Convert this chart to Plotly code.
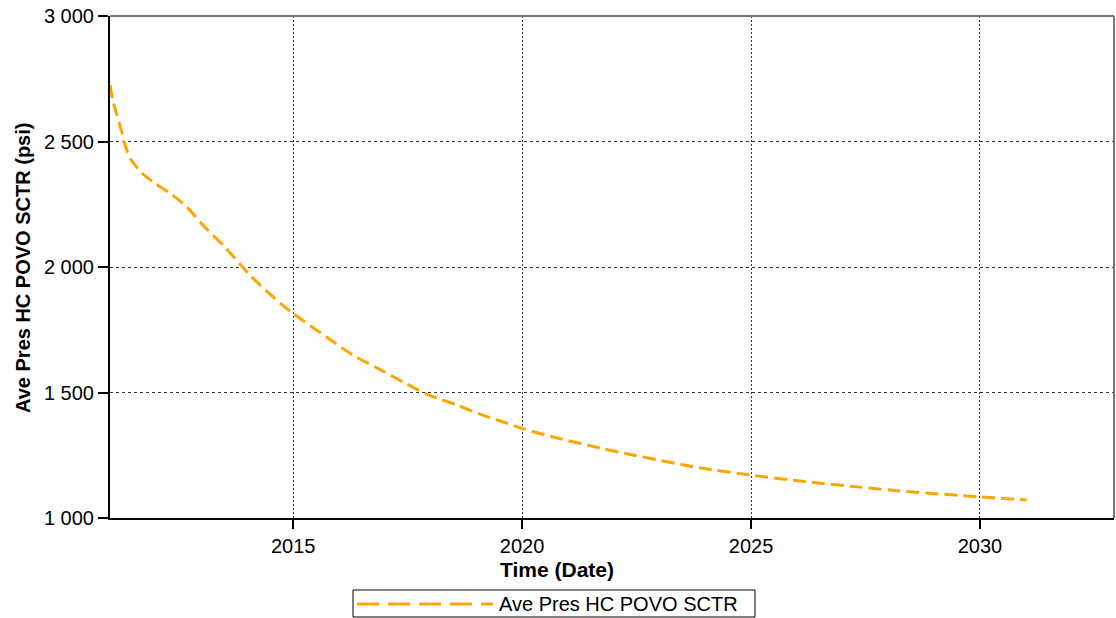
import plotly.graph_objects as go

# Average reservoir pressure, HC POVO sector
dates = [
    "2011-01-01", "2011-01-27", "2011-02-25", "2011-04-05", "2011-05-01",
    "2011-06-10", "2011-09-12", "2012-01-01", "2012-04-22", "2012-09-05",
    "2013-01-26", "2013-07-05", "2014-01-01", "2014-04-12", "2014-10-05",
    "2015-01-01", "2015-10-05", "2016-04-22", "2016-10-30", "2017-05-26",
    "2017-12-10", "2018-07-30", "2019-02-20", "2019-09-01", "2020-01-01",
    "2020-08-08", "2021-09-12", "2022-06-03", "2023-11-16", "2025-01-01",
    "2026-01-26", "2027-05-20", "2028-04-01", "2030-01-01", "2031-01-08",
]
pressure = [
    2725, 2657, 2606, 2538, 2486,
    2434, 2375, 2331, 2295, 2239,
    2159, 2080, 1978, 1928, 1849,
    1815, 1717, 1649, 1598, 1542,
    1492, 1450, 1410, 1378, 1357,
    1326, 1279, 1251, 1200, 1171,
    1147, 1123, 1108, 1084, 1072,
]
series_name = "Ave Pres HC POVO SCTR"
x_tick_vals = ["2015-01-01", "2020-01-01", "2025-01-01", "2030-01-01"]
x_tick_text = ["2015", "2020", "2025", "2030"]
y_tick_vals = [1000, 1500, 2000, 2500, 3000]

FONT = "Liberation Sans, Arial, sans-serif"
ORANGE = "#FFA500"

fig = go.Figure()
fig.add_trace(go.Scatter(
    x=dates, y=pressure, mode="lines", name=series_name,
    line=dict(color=ORANGE, width=3, dash="13px,6px", shape="spline", smoothing=0.7),
    showlegend=False,
))

fig.update_layout(
    width=1116, height=618,
    margin=dict(l=110, r=2, t=16, b=100),
    paper_bgcolor="white", plot_bgcolor="white",
    separators=". ",
    font=dict(family=FONT, size=20, color="black"),
    xaxis=dict(
        type="date", range=["2011-01-01", "2032-12-05"],
        tickvals=x_tick_vals, ticktext=x_tick_text,
        ticks="outside", ticklen=9, tickwidth=2, tickcolor="black",
        showline=True, linecolor="black", linewidth=2,
        showgrid=True, gridcolor="#333333", gridwidth=1, griddash="2px,2px",
        zeroline=False, tickfont=dict(size=20),
    ),
    yaxis=dict(
        range=[1000, 3000], tickvals=y_tick_vals, tickformat=",d",
        ticks="outside", ticklen=10, tickwidth=2, tickcolor="black",
        showline=True, linecolor="black", linewidth=2,
        showgrid=True, gridcolor="#333333", gridwidth=1, griddash="3px,3px",
        zeroline=False, tickfont=dict(size=20),
    ),
)

# Grey top and right frame edges
fig.add_shape(type="line", xref="paper", yref="paper", x0=0, x1=1, y0=1, y1=1,
              line=dict(color="#777777", width=2))
fig.add_shape(type="line", xref="paper", yref="paper", x0=1, x1=1, y0=0, y1=1,
              line=dict(color="#777777", width=2))


def px(xp):
    return (xp - 110) / 1004


def py(yp):
    return (518 - yp) / 502


# Axis titles
fig.add_annotation(text="<b>Time (Date)</b>", xref="paper", yref="paper",
                   x=px(557), y=py(569), showarrow=False,
                   font=dict(size=21), xanchor="center", yanchor="middle")
fig.add_annotation(text="<b>Ave Pres HC POVO SCTR (psi)</b>", xref="paper", yref="paper",
                   x=px(23), y=py(268), showarrow=False, textangle=-90,
                   font=dict(size=20), xanchor="center", yanchor="middle")

# Legend box with a long dashed sample
fig.add_shape(type="rect", xref="paper", yref="paper",
              x0=px(353), x1=px(755), y0=py(590), y1=py(617),
              line=dict(color="black", width=1), fillcolor="white")
fig.add_shape(type="line", xref="paper", yref="paper",
              x0=px(357), x1=px(493), y0=py(604), y1=py(604),
              line=dict(color=ORANGE, width=3, dash="22px,9px"))
fig.add_annotation(text=series_name, xref="paper", yref="paper",
                   x=px(497), y=py(604), showarrow=False, xanchor="left",
                   yanchor="middle", font=dict(size=20))

fig.write_html("out.html")
